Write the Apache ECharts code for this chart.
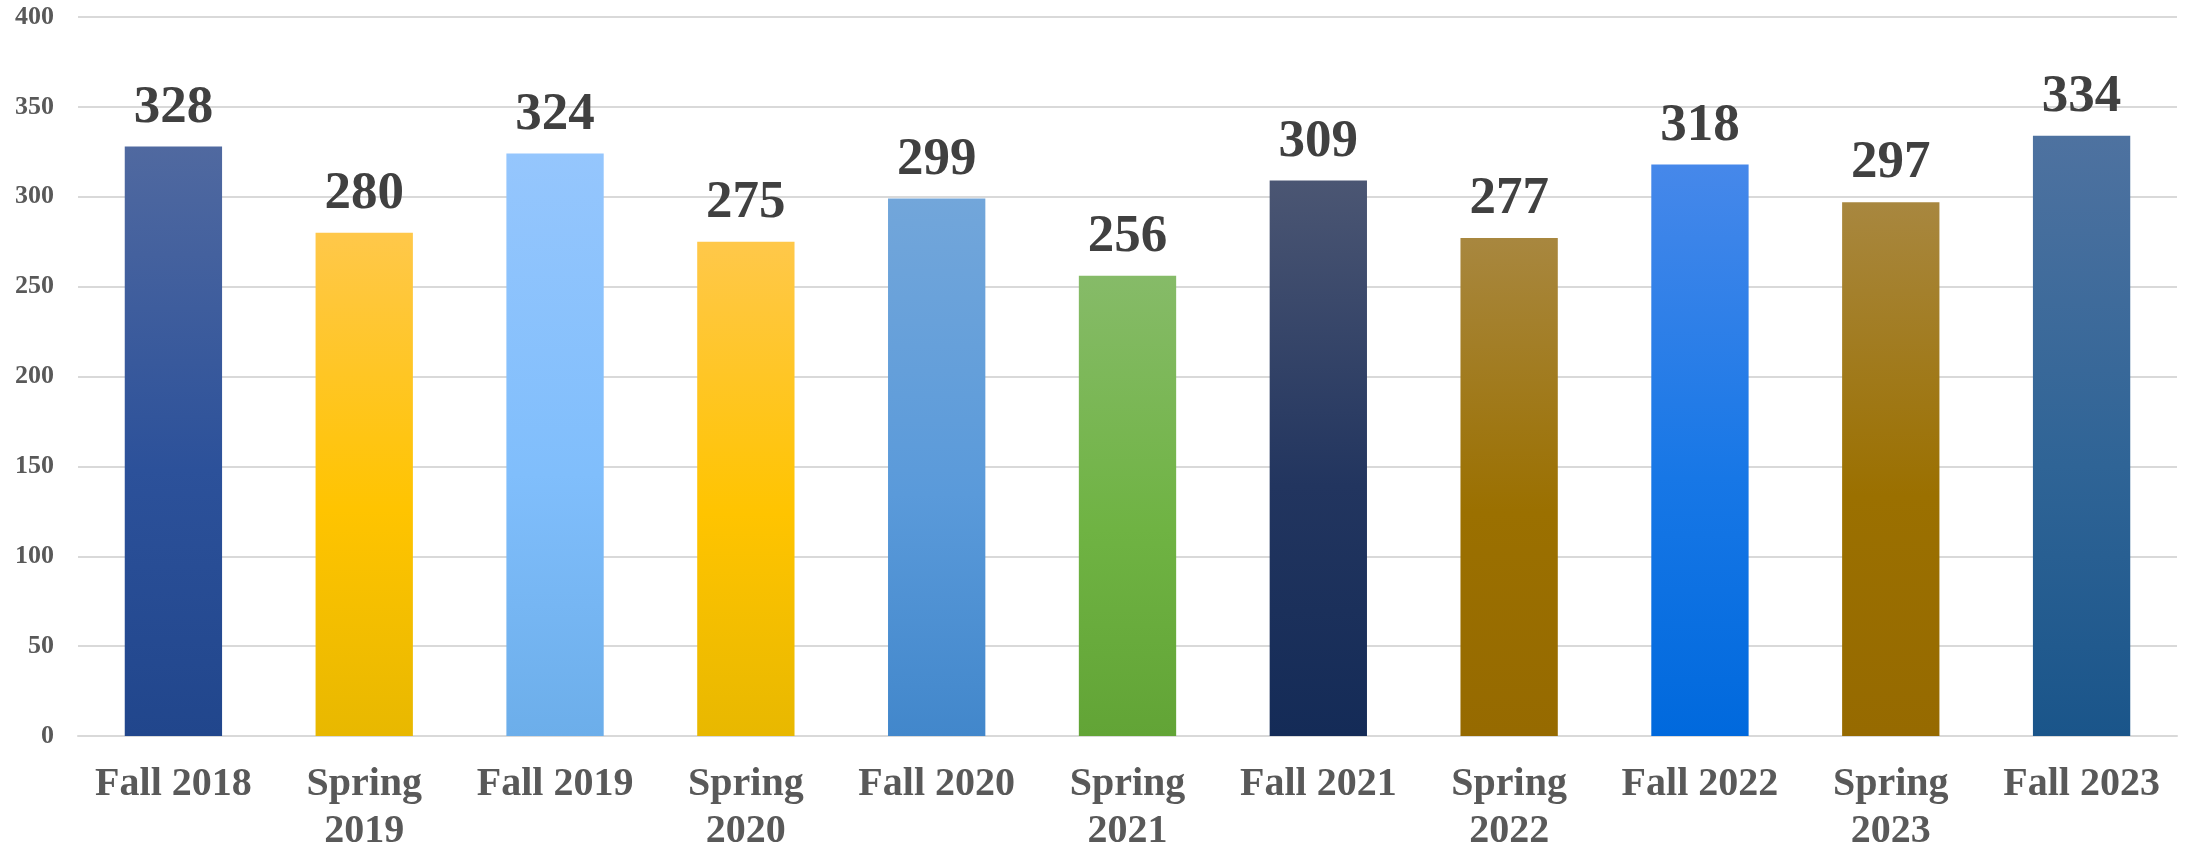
<!DOCTYPE html>
<html>
<head>
<meta charset="utf-8">
<style>
  html, body { margin: 0; padding: 0; background: #fff; }
  #chart { width: 2185px; height: 847px; }
</style>
<script src="https://cdn.jsdelivr.net/npm/echarts@6/dist/echarts.min.js"></script>
</head>
<body>
<div id="chart"></div>
<script>
const terms = ['Fall 2018', 'Spring\n2019', 'Fall 2019', 'Spring\n2020', 'Fall 2020', 'Spring\n2021',
  'Fall 2021', 'Spring\n2022', 'Fall 2022', 'Spring\n2023', 'Fall 2023'];
const counts = [328, 280, 324, 275, 299, 256, 309, 277, 318, 297, 334];

// top / middle / bottom of each bar's gradient
const fills = [
  ['#5069a0', '#2c519a', '#21468c'],
  ['#ffc84a', '#ffc400', '#e8b800'],
  ['#95c6fd', '#80befc', '#6caeea'],
  ['#ffc84a', '#ffc400', '#e8b800'],
  ['#72a6da', '#5a9ada', '#4287cb'],
  ['#86bb68', '#6fb343', '#62a436'],
  ['#4b5673', '#22355f', '#142b57'],
  ['#a8873f', '#9b7000', '#966a00'],
  ['#4688ea', '#1777e6', '#0069dd'],
  ['#a8873f', '#9b7000', '#966a00'],
  ['#4e72a0', '#2f6496', '#1a558a'],
];

const font = '"Liberation Serif", "Times New Roman", serif';

const chart = echarts.init(document.getElementById('chart'));

const option = {
  animation: false,
  grid: {
    top: 17,
    left: 78,
    right: 8,
    bottom: 111,
    outerBoundsMode: 'none',
  },
  xAxis: {
    type: 'category',
    data: terms,
    axisLine: { lineStyle: { color: '#d9d9d9', width: 2 } },
    axisTick: { show: false },
    axisLabel: {
      interval: 0,
      margin: 25,
      fontFamily: font,
      fontWeight: 'bold',
      fontSize: 40,
      lineHeight: 47,
      color: '#595959',
    },
  },
  yAxis: {
    type: 'value',
    min: 0,
    max: 400,
    interval: 50,
    axisLine: { show: false },
    axisTick: { show: false },
    splitLine: { lineStyle: { color: '#d9d9d9', width: 2 } },
    axisLabel: {
      margin: 24,
      fontFamily: font,
      fontWeight: 'bold',
      fontSize: 26,
      color: '#595959',
    },
  },
  series: [
    {
      type: 'bar',
      barCategoryGap: '49%',
      data: counts.map((v, i) => ({
        value: v,
        itemStyle: {
          color: new echarts.graphic.LinearGradient(0, 0, 0, 1, [
            { offset: 0, color: fills[i][0] },
            { offset: 0.55, color: fills[i][1] },
            { offset: 1, color: fills[i][2] },
          ]),
        },
      })),
      label: {
        show: true,
        position: 'top',
        distance: 12,
        fontFamily: font,
        fontWeight: 'bold',
        fontSize: 53,
        color: '#404040',
      },
    },
  ],
};

chart.setOption(option, true);
</script>
</body>
</html>
